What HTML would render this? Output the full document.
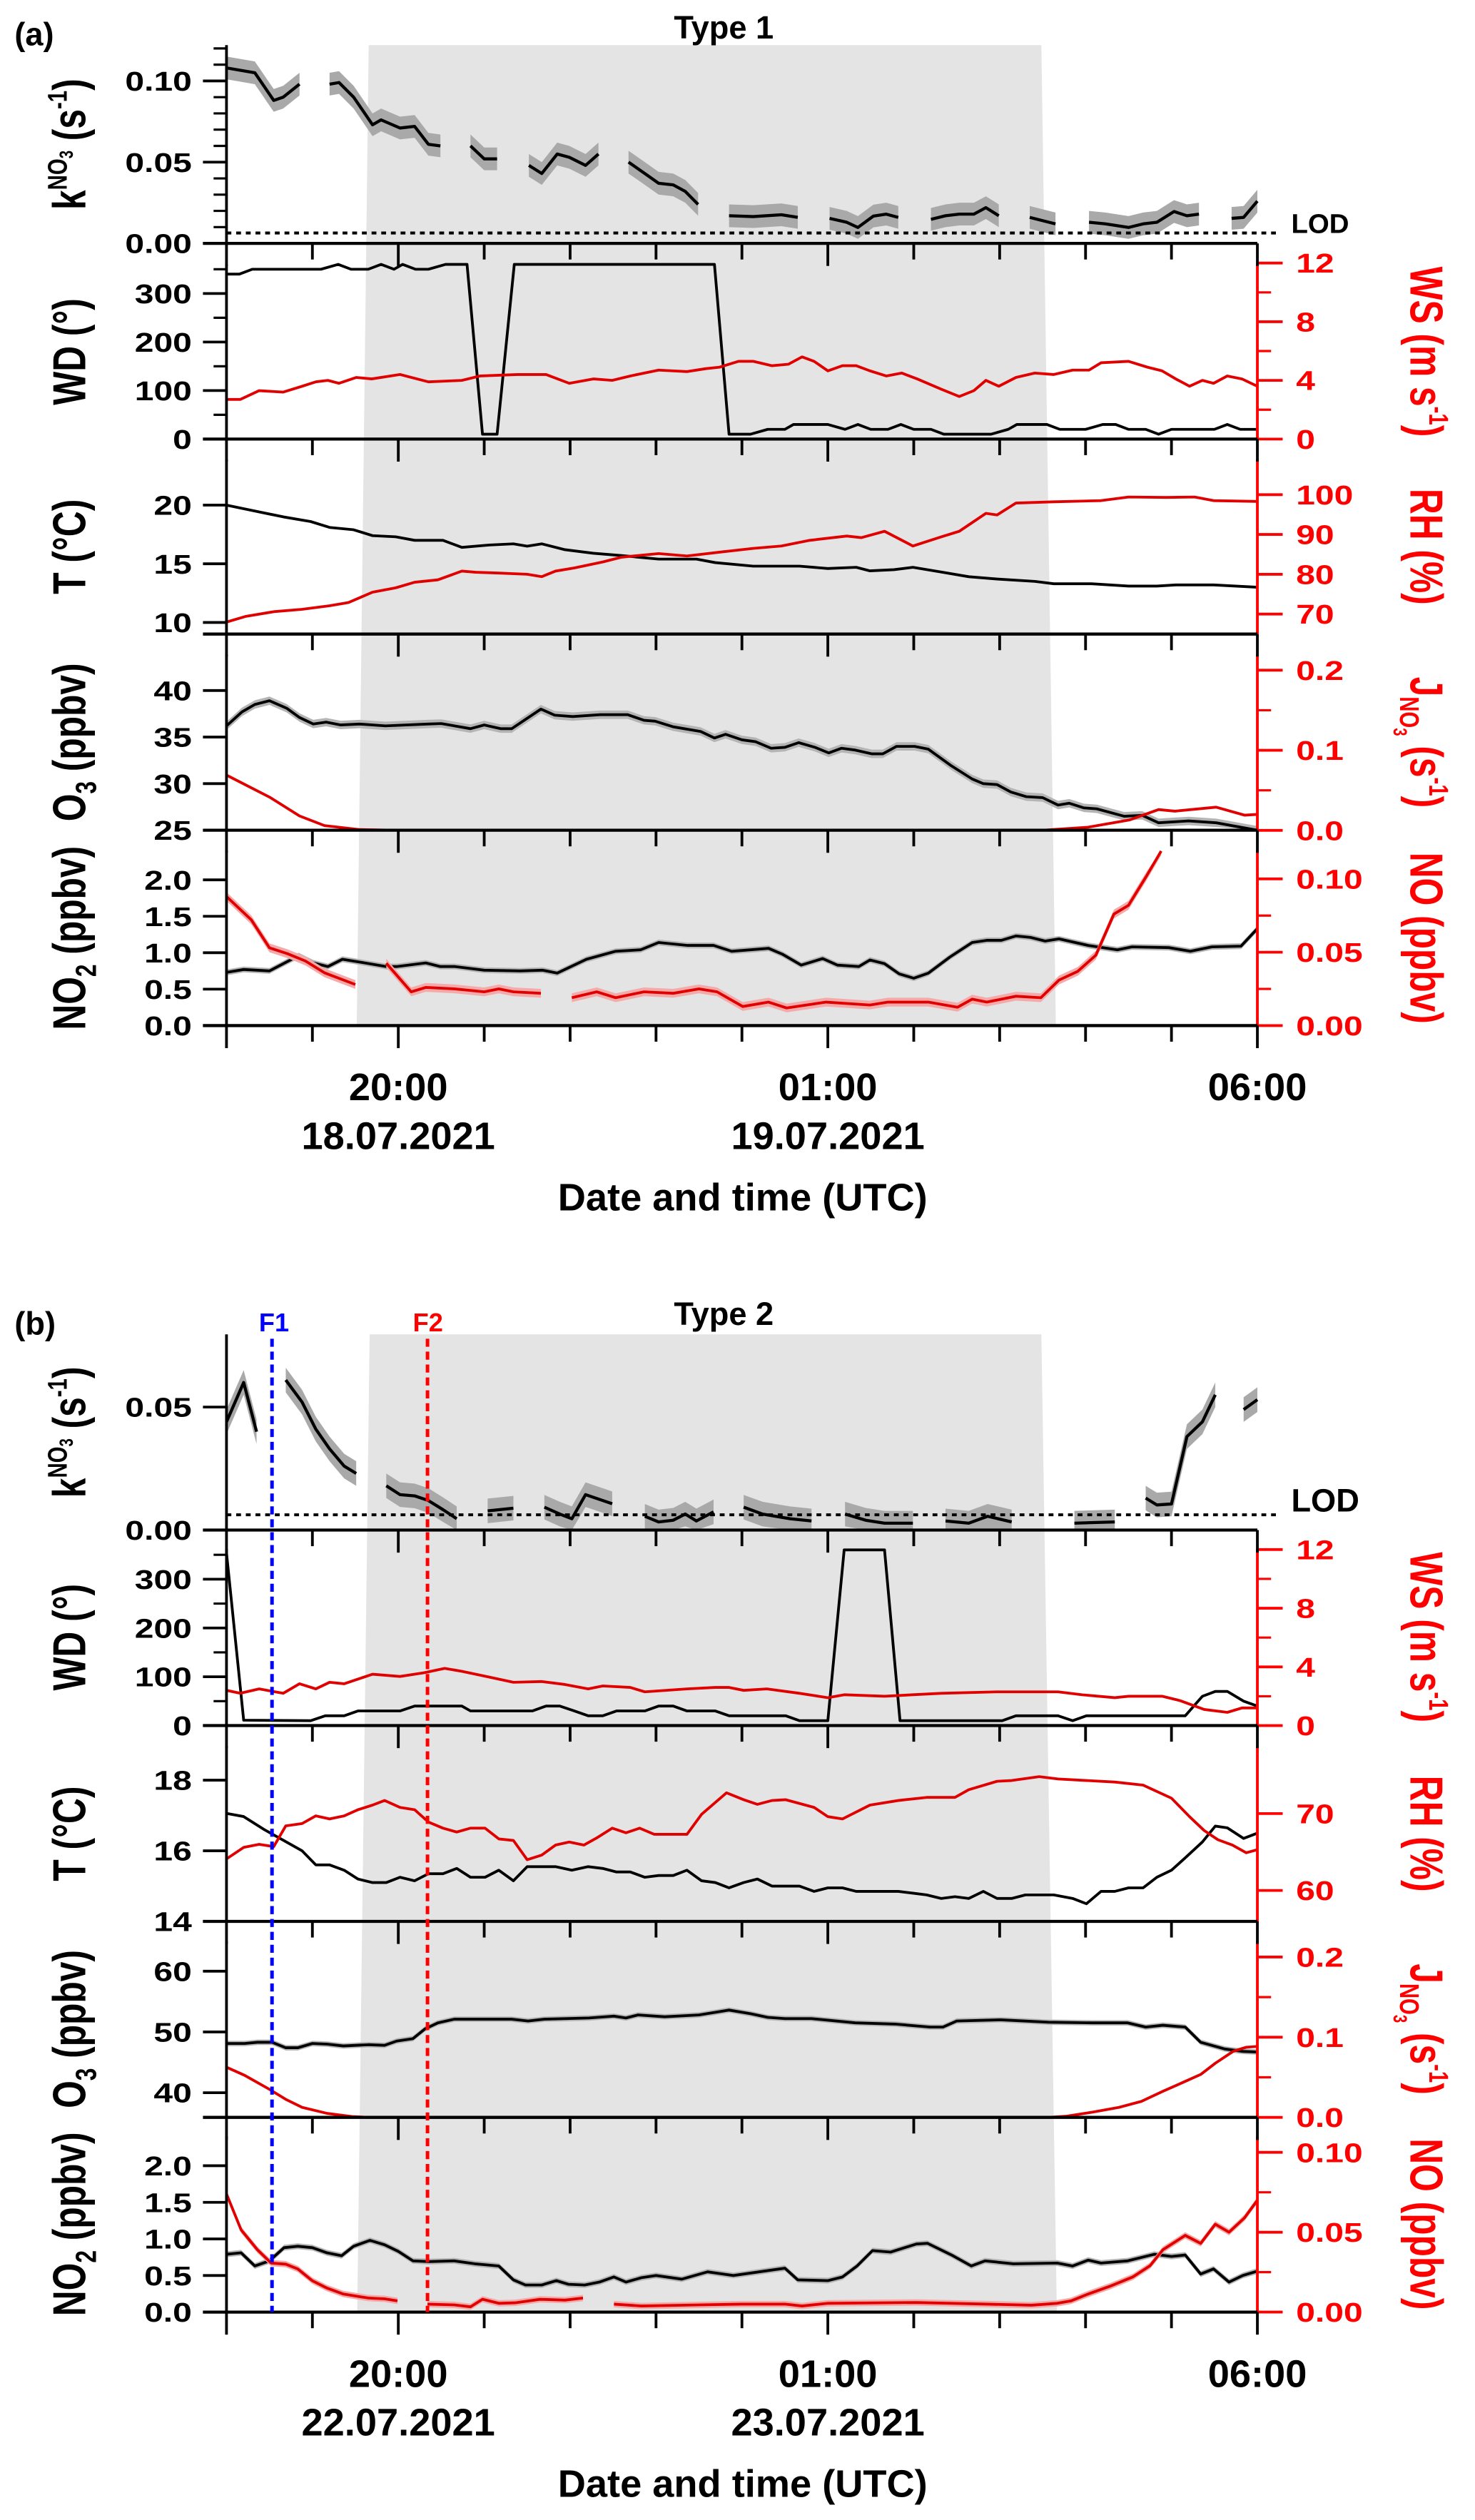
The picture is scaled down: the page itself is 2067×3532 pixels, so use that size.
<!DOCTYPE html>
<html><head><meta charset="utf-8"><title>Type 1 / Type 2 time series</title>
<style>html,body{margin:0;padding:0;background:#fff}svg{display:block}text{font-family:"Liberation Sans",Arial,sans-serif}</style>
</head><body>
<svg id="chart" xmlns="http://www.w3.org/2000/svg" width="2067" height="3532" viewBox="0 0 915 1563.5" preserveAspectRatio="none">
<rect x="0" y="0" width="915" height="1563.5" fill="#fff"/>
<polygon points="228.7,28 646,28 655,636.3 221.3,636.3" fill="#e4e4e4"/>
<polygon points="229.3,827.9 646,827.9 655.6,1434.5 221.6,1434.5" fill="#e4e4e4"/>
<g id="marks"></g>
<g id="axes"></g>
<text x="9" y="28" font-size="20" font-weight="bold">(a)</text>
<text x="449" y="24" font-size="20" font-weight="bold" text-anchor="middle">Type 1</text>
<text x="9" y="828" font-size="20" font-weight="bold">(b)</text>
<text x="449" y="822" font-size="20" font-weight="bold" text-anchor="middle">Type 2</text>
<text x="170" y="826" font-size="16" font-weight="bold" fill="#0000ff" text-anchor="middle">F1</text>
<text x="265.5" y="826" font-size="16" font-weight="bold" fill="#ff0000" text-anchor="middle">F2</text>
</svg>
<script>
// ---------- data (hours since 18:00) ----------
const hourTicks=[0,1,2,3,4,5,6,7,8,9,10,11,12];
const hourMajor=[0,2,7,12];
const timeLabels=['20:00','01:00','06:00'];
const timeLabelHours=[2,7,12];
const dateLabelsA=['18.07.2021','19.07.2021'];
const dateLabelsB=['22.07.2021','23.07.2021'];
const flightHours=[0.53,2.34];

const kA_t=[0,0.33,0.55,0.66,0.85,1.0,1.2,1.31,1.48,1.7,1.8,2.02,2.19,2.35,2.49,2.6,2.84,3.0,3.15,3.3,3.52,3.67,3.85,3.99,4.18,4.33,4.5,4.68,4.87,5.03,5.2,5.34,5.49,5.7,5.85,6.13,6.46,6.65,6.8,7.02,7.22,7.35,7.53,7.68,7.82,8.0,8.2,8.37,8.53,8.7,8.84,8.99,9.2,9.35,9.65,9.8,10.04,10.23,10.5,10.67,10.83,11.03,11.18,11.32,11.5,11.7,11.84,12];
const kA_v=[0.108,0.105,0.088,0.090,0.098,null,0.098,0.099,0.090,0.073,0.076,0.071,0.072,0.061,0.060,null,0.060,0.052,0.052,null,0.048,0.043,0.055,0.053,0.048,0.055,null,0.050,0.043,0.037,0.036,0.032,0.024,null,0.017,0.0165,0.0176,0.016,null,0.0154,0.013,0.0098,0.0168,0.018,0.016,null,0.0148,0.017,0.018,0.018,0.022,0.017,null,0.016,0.012,null,0.013,0.012,0.0098,0.012,0.013,0.0196,0.017,0.018,null,0.0154,0.016,0.026];
const kA_err=0.007;
const lodA=0.0064;
const wdA_t=[0,0.15,0.3,0.6,1.1,1.3,1.45,1.65,1.8,1.95,2.05,2.2,2.35,2.55,2.8,2.98,3.15,3.35,5.68,5.85,6.1,6.3,6.5,6.6,7.0,7.2,7.35,7.5,7.7,7.85,8.0,8.2,8.35,8.9,9.1,9.2,9.55,9.7,10.0,10.2,10.35,10.5,10.7,10.85,11.0,11.5,11.65,11.8,12];
const wdA_v=[340,340,350,350,350,360,350,350,360,350,360,350,350,360,360,10,10,360,360,10,10,20,20,30,30,20,30,20,20,30,20,20,10,10,20,30,30,20,20,30,30,20,20,10,20,20,30,20,20];
const wsA_t=[0,0.16,0.38,0.66,0.88,1.04,1.18,1.31,1.51,1.69,2.02,2.35,2.74,2.95,3.39,3.72,3.99,4.27,4.49,4.70,5.03,5.36,5.58,5.74,5.96,6.13,6.35,6.54,6.70,6.84,7.00,7.17,7.33,7.49,7.68,7.86,8.04,8.32,8.53,8.70,8.84,8.99,9.19,9.41,9.63,9.85,10.04,10.18,10.50,10.72,10.89,11.05,11.21,11.36,11.49,11.65,11.82,12];
const wsA_v=[2.7,2.7,3.3,3.2,3.6,3.9,4.0,3.8,4.2,4.1,4.4,3.9,4.0,4.3,4.4,4.4,3.8,4.1,4.0,4.3,4.7,4.6,4.8,4.9,5.3,5.3,5.0,5.1,5.6,5.3,4.65,5.0,5.0,4.65,4.3,4.5,4.1,3.4,2.9,3.3,4.0,3.6,4.2,4.5,4.4,4.7,4.7,5.2,5.3,4.9,4.65,4.1,3.6,4.0,3.8,4.3,4.1,3.6];
const tA_t=[0,0.33,0.66,0.98,1.2,1.48,1.7,1.97,2.19,2.52,2.74,3.06,3.34,3.5,3.67,3.94,4.27,4.6,5.03,5.47,5.69,6.13,6.67,7.0,7.33,7.49,7.77,7.99,8.32,8.64,8.97,9.41,9.63,10.07,10.5,10.83,11.05,11.49,12];
const tA_v=[20.0,19.5,19.0,18.6,18.1,17.9,17.4,17.3,17.0,17.0,16.4,16.6,16.7,16.5,16.7,16.2,15.9,15.7,15.4,15.4,15.1,14.8,14.8,14.6,14.7,14.4,14.5,14.7,14.3,13.9,13.7,13.5,13.3,13.3,13.1,13.1,13.2,13.2,13.0];
const rhA_t=[0,0.22,0.55,0.88,1.2,1.42,1.7,1.97,2.19,2.46,2.74,2.9,3.17,3.5,3.67,3.83,4.05,4.38,4.6,5.03,5.36,5.8,6.13,6.46,6.78,7.22,7.39,7.66,7.99,8.32,8.53,8.84,8.97,9.19,9.63,10.18,10.5,10.94,11.27,11.49,12];
const rhA_v=[68.0,69.4,70.6,71.2,72.1,72.9,75.5,76.6,78.0,78.6,80.8,80.5,80.3,80.0,79.4,80.8,81.6,83.1,84.3,85.2,84.6,85.7,86.5,87.1,88.5,89.6,89.2,90.8,87.1,89.4,90.8,95.3,94.9,97.9,98.2,98.5,99.4,99.3,99.4,98.5,98.3];
const o3A_t=[0,0.18,0.33,0.5,0.7,0.85,1.01,1.16,1.33,1.55,1.85,2.34,2.5,2.84,3.0,3.19,3.32,3.66,3.82,4.03,4.35,4.67,4.86,4.99,5.2,5.52,5.68,5.81,6.0,6.16,6.34,6.5,6.66,6.85,7.01,7.16,7.32,7.51,7.64,7.8,8.01,8.17,8.44,8.68,8.81,8.97,9.13,9.31,9.5,9.68,9.81,9.98,10.13,10.45,10.66,10.85,11.2,11.52,12];
const o3A_v=[36.2,37.7,38.5,38.9,38.1,37.1,36.4,36.6,36.3,36.4,36.2,36.4,36.45,35.9,36.3,35.9,35.9,38.0,37.35,37.2,37.4,37.4,36.8,36.7,36.1,35.6,34.9,35.3,34.7,34.5,33.8,33.9,34.4,33.9,33.3,33.8,33.6,33.2,33.2,34.0,34.0,33.7,31.9,30.5,30.0,29.9,29.1,28.6,28.5,27.7,27.9,27.4,27.3,26.5,26.6,25.8,26.0,25.8,25.0];
const jA_t=[0,0.51,0.85,1.14,1.55,1.96,9.5,10.03,10.51,10.85,11.04,11.52,11.85,12];
const jA_v=[0.069,0.041,0.018,0.006,0.001,0,0,0.004,0.013,0.026,0.024,0.029,0.019,0.02];
const no2A_t=[0,0.2,0.5,0.84,1.01,1.18,1.35,1.56,1.86,1.98,2.32,2.49,2.66,3.0,3.42,3.68,3.85,4.19,4.53,4.82,5.03,5.37,5.67,5.88,6.31,6.47,6.69,6.94,7.11,7.36,7.49,7.66,7.83,8.0,8.17,8.42,8.68,8.85,9.02,9.19,9.36,9.53,9.69,10.03,10.37,10.54,10.97,11.22,11.47,11.81,12];
const no2A_v=[0.73,0.77,0.75,0.96,0.86,0.81,0.91,0.87,0.81,0.81,0.86,0.81,0.81,0.76,0.75,0.76,0.72,0.91,1.02,1.04,1.14,1.10,1.10,1.02,1.06,0.98,0.83,0.92,0.83,0.81,0.90,0.85,0.71,0.65,0.72,0.94,1.14,1.17,1.17,1.23,1.21,1.16,1.19,1.10,1.04,1.08,1.07,1.02,1.08,1.09,1.33];
const noA_t=[0,0.29,0.5,0.71,0.92,1.14,1.5,1.7,1.86,2.15,2.32,2.66,3.0,3.17,3.34,3.66,3.85,4.02,4.31,4.53,4.86,5.2,5.5,5.71,6.01,6.31,6.52,6.98,7.49,7.7,8.17,8.51,8.68,8.85,9.19,9.48,9.69,9.91,10.12,10.33,10.5,10.71,10.88];
const noA_v=[0.088,0.072,0.053,0.049,0.044,0.036,0.028,null,0.0425,0.023,0.026,0.025,0.023,0.025,0.023,0.022,null,0.019,0.023,0.019,0.023,0.022,0.025,0.023,0.013,0.016,0.012,0.016,0.014,0.016,0.016,0.0125,0.018,0.016,0.020,0.019,0.031,0.037,0.048,0.076,0.082,0.102,0.119];

const kB_t=[0,0.2,0.35,0.5,0.69,0.88,1.04,1.2,1.37,1.51,1.7,1.86,2.02,2.19,2.35,2.52,2.68,2.85,3.04,3.34,3.5,3.7,3.88,4.02,4.18,4.49,4.7,4.87,5.03,5.2,5.34,5.47,5.67,5.85,6.02,6.24,6.56,6.81,7.0,7.2,7.44,7.66,7.99,8.2,8.37,8.64,8.86,9.14,9.5,9.87,10.34,10.5,10.7,10.83,11.0,11.18,11.36,11.51,11.7,11.84,12];
const kB_v=[0.044,0.060,0.040,null,0.061,0.052,0.041,0.033,0.026,0.023,null,0.018,0.0144,0.0139,0.012,0.0083,0.0046,null,0.0078,0.0089,null,0.0093,0.0065,0.0046,0.0144,0.0107,null,0.0056,0.0033,0.004,0.0065,0.0037,0.0074,null,0.0093,0.0065,0.0046,0.0037,null,0.0065,0.004,0.0028,0.0028,null,0.0037,0.0028,0.0056,0.0033,null,0.0028,0.0033,null,0.013,0.0102,0.0106,0.038,0.044,0.055,null,0.049,0.053];
const kB_err=0.005;
const lodB=0.0062;
const wdB_t=[0,0.2,0.98,1.15,1.37,1.53,2.02,2.19,2.74,2.84,3.56,3.72,3.88,4.05,4.21,4.38,4.54,4.87,5.03,5.2,5.36,5.69,5.85,6.51,6.67,7.0,7.19,7.66,7.84,9.03,9.19,9.68,9.85,10.01,11.16,11.36,11.51,11.65,11.84,12];
const wdB_v=[354,11,10,20,20,30,30,40,40,30,30,40,40,30,20,20,30,30,40,40,30,30,20,20,10,10,360,360,10,10,20,20,10,20,20,60,70,70,50,40];
const wsB_t=[0,0.16,0.38,0.66,0.85,1.04,1.2,1.37,1.7,2.02,2.3,2.54,2.74,3.06,3.34,3.67,3.94,4.21,4.38,4.7,4.87,5.36,5.69,5.85,6.02,6.29,6.67,7.0,7.19,7.66,7.99,8.32,8.97,9.68,9.96,10.34,10.5,10.89,11.1,11.38,11.65,11.82,12];
const wsB_v=[2.4,2.2,2.5,2.2,2.85,2.5,2.95,2.85,3.5,3.35,3.6,3.9,3.7,3.3,2.95,3.0,2.8,2.5,2.7,2.6,2.3,2.5,2.6,2.6,2.4,2.5,2.2,1.9,2.1,2.0,2.1,2.2,2.3,2.3,2.1,1.9,2.0,2.0,1.7,1.1,0.9,1.2,1.2];
const tB_t=[0,0.2,0.44,0.66,0.88,1.04,1.2,1.37,1.53,1.7,1.86,2.02,2.19,2.35,2.52,2.68,2.84,3.01,3.17,3.34,3.5,3.83,4.02,4.21,4.38,4.54,4.7,4.87,5.03,5.2,5.36,5.53,5.69,5.85,6.02,6.18,6.35,6.67,6.84,7.0,7.17,7.33,7.82,7.99,8.15,8.32,8.48,8.64,8.81,8.97,9.14,9.3,9.63,9.85,10.01,10.18,10.34,10.5,10.67,10.83,11.0,11.16,11.36,11.51,11.65,11.84,12];
const tB_v=[17.06,16.97,16.6,16.3,16.0,15.6,15.6,15.45,15.2,15.1,15.1,15.25,15.15,15.35,15.35,15.5,15.25,15.25,15.45,15.15,15.55,15.55,15.45,15.55,15.5,15.4,15.4,15.25,15.3,15.3,15.45,15.15,15.1,14.95,15.1,15.2,15.0,15.0,14.85,14.95,14.95,14.85,14.85,14.8,14.75,14.65,14.7,14.65,14.85,14.65,14.65,14.75,14.75,14.65,14.5,14.85,14.85,14.95,14.95,15.25,15.45,15.8,16.25,16.7,16.65,16.35,16.5];
const rhB_t=[0,0.2,0.38,0.55,0.69,0.88,1.04,1.2,1.37,1.53,1.7,1.84,2.02,2.19,2.35,2.52,2.68,2.84,3.01,3.17,3.34,3.5,3.67,3.83,3.99,4.16,4.32,4.49,4.65,4.81,4.98,5.36,5.53,5.82,6.02,6.18,6.35,6.51,6.84,7.0,7.17,7.33,7.49,7.82,8.15,8.48,8.64,8.97,9.14,9.46,9.68,10.01,10.34,10.67,11.0,11.21,11.38,11.54,11.71,11.87,12];
const rhB_v=[64.1,65.6,66.0,65.7,68.4,68.7,69.7,69.3,69.7,70.5,71.1,71.7,70.8,70.5,68.9,68.1,67.6,68.1,68.1,66.7,66.5,64.0,64.6,65.9,66.3,65.9,66.9,68.1,67.5,68.1,67.3,67.3,69.9,72.7,71.8,71.2,71.7,71.8,70.8,69.6,69.3,70.2,71.1,71.7,72.1,72.1,73.1,74.2,74.3,74.8,74.5,74.3,74.1,73.7,72.0,69.6,67.8,66.6,65.9,64.9,65.3];
const o3B_t=[0,0.21,0.36,0.53,0.69,0.83,1.0,1.17,1.36,1.65,1.84,1.98,2.17,2.31,2.46,2.65,3.32,3.51,3.70,4.22,4.51,4.65,4.79,5.1,5.5,5.85,6.1,6.3,6.5,6.81,7.32,7.78,8.19,8.34,8.5,9.01,9.57,10.08,10.49,10.7,10.9,11.16,11.34,11.62,11.83,12];
const o3B_v=[48.1,48.1,48.3,48.3,47.4,47.4,48.1,48.0,47.7,47.9,47.8,48.5,48.9,50.5,51.5,52.1,52.1,51.8,52.1,52.3,52.6,52.3,52.8,52.5,52.8,53.6,53.0,52.4,52.2,52.2,51.5,51.3,50.8,50.8,51.8,52.0,51.6,51.5,51.5,50.8,51.1,50.8,48.3,47.2,46.8,46.7];
const jB_t=[0,0.21,0.5,0.69,0.88,1.17,1.46,1.65,9.57,9.78,10.08,10.39,10.65,10.9,11.11,11.34,11.51,11.72,11.87,12];
const jB_v=[0.0626,0.0525,0.035,0.0225,0.0125,0.005,0.001,0,0,0.0015,0.0065,0.0125,0.02,0.0325,0.0425,0.0535,0.0675,0.0825,0.0875,0.0885];
const no2B_t=[0,0.17,0.33,0.5,0.67,0.83,1.0,1.17,1.34,1.48,1.67,1.84,2.0,2.17,2.36,2.65,2.89,3.17,3.34,3.48,3.67,3.84,3.98,4.17,4.34,4.51,4.65,4.83,5.0,5.3,5.6,5.9,6.2,6.5,6.65,7.0,7.17,7.34,7.52,7.73,8.03,8.16,8.44,8.67,8.83,9.16,9.67,9.85,10.03,10.18,10.49,10.8,11.0,11.16,11.34,11.49,11.67,11.83,12];
const no2B_v=[0.79,0.81,0.63,0.70,0.88,0.90,0.88,0.81,0.77,0.90,0.98,0.92,0.83,0.70,0.69,0.70,0.66,0.63,0.44,0.37,0.37,0.43,0.38,0.37,0.41,0.48,0.41,0.47,0.5,0.45,0.55,0.5,0.55,0.6,0.44,0.43,0.48,0.63,0.84,0.82,0.93,0.94,0.78,0.63,0.70,0.66,0.67,0.63,0.71,0.67,0.70,0.79,0.76,0.78,0.52,0.59,0.41,0.50,0.56];
const noB_t=[0,0.17,0.36,0.52,0.69,0.83,1.0,1.17,1.36,1.65,1.84,1.99,2.15,2.34,2.65,2.84,2.98,3.17,3.36,3.65,3.94,4.15,4.3,4.51,4.83,5.5,6.0,6.5,6.7,7.0,8.03,8.85,9.37,9.67,9.83,10.03,10.29,10.55,10.75,10.9,11.16,11.34,11.51,11.67,11.85,12];
const noB_v=[0.074,0.0515,0.039,0.0307,0.030,0.027,0.0196,0.015,0.0113,0.0088,0.0083,0.007,null,0.005,0.0045,0.0033,0.008,0.0055,0.0058,0.008,0.0075,0.0088,null,0.005,0.0038,0.0045,0.005,0.005,0.0038,0.0055,0.006,0.005,0.0043,0.0055,0.007,0.0113,0.0163,0.022,0.029,0.039,0.048,0.043,0.055,0.050,0.059,0.070];

// ---------- layout ----------
const NS='http://www.w3.org/2000/svg';
const marks=document.getElementById('marks');
const axes=document.getElementById('axes');
const X0=140.5,X1=780,PPH=(X1-X0)/12;
function X(h){return X0+h*PPH;}
function mk(tag,attrs,parent){const e=document.createElementNS(NS,tag);for(const k in attrs)e.setAttribute(k,attrs[k]);parent.appendChild(e);return e;}
const RED='#ff0000';
const LW=1.7, AW=1.7;

const A={
 k:{top:28,bot:151,y0:151,v0:0,ppu:1008},
 wd:{top:164,bot:272.4,y0:272.4,v0:0,ppu:0.301},
 ws:{top:164,bot:272.4,y0:272.4,v0:0,ppu:9.1},
 t:{top:285,bot:393.4,y0:313.4,v0:20,ppu:7.28},
 rh:{top:285,bot:393.4,y0:306.9,v0:100,ppu:2.47},
 o3:{top:406,bot:515.1,y0:515.1,v0:25,ppu:5.78},
 j:{top:406,bot:515.1,y0:515.2,v0:0,ppu:497},
 no2:{top:527.7,bot:636.3,y0:636.3,v0:0,ppu:45.2},
 no:{top:527.7,bot:636.3,y0:636.3,v0:0,ppu:910}
};
const B={
 k:{top:827.9,bot:949.3,y0:949.3,v0:0,ppu:1526},
 wd:{top:961,bot:1070.6,y0:1070.6,v0:0,ppu:0.3027},
 ws:{top:961,bot:1070.6,y0:1070.6,v0:0,ppu:9.1},
 t:{top:1083.3,bot:1192.1,y0:1192.1,v0:14,ppu:21.9},
 rh:{top:1083.3,bot:1192.1,y0:1172.9,v0:60,ppu:4.77},
 o3:{top:1204.2,bot:1313.7,y0:1260.7,v0:50,ppu:3.77},
 j:{top:1204.2,bot:1313.7,y0:1313.7,v0:0,ppu:497.5},
 no2:{top:1325.4,bot:1434.5,y0:1434.5,v0:0,ppu:45.4},
 no:{top:1325.4,bot:1434.5,y0:1434.5,v0:0,ppu:991}
};
function Y(s,v){return s.y0-(v-s.v0)*s.ppu;}
function cl(s,y){return Math.max(s.top,Math.min(s.bot,y));}

function series(ts,vs,s,color,w,name,err,bandFill){
  const n=Math.min(ts.length,vs.length);const segs=[];let cur=[];
  for(let i=0;i<n;i++){if(vs[i]===null){if(cur.length)segs.push(cur);cur=[];}else cur.push([ts[i],vs[i]]);}
  if(cur.length)segs.push(cur);
  segs.forEach(seg=>{
    if(err){
      const up=seg.map(p=>X(p[0]).toFixed(2)+','+cl(s,Y(s,p[1]+err)).toFixed(2));
      const lo=seg.slice().reverse().map(p=>X(p[0]).toFixed(2)+','+cl(s,Y(s,p[1]-err)).toFixed(2));
      const b=mk('polygon',{points:up.concat(lo).join(' '),fill:bandFill},marks);
      
      
    }
    const d=seg.map((p,i)=>(i?'L':'M')+X(p[0]).toFixed(2)+','+cl(s,Y(s,p[1])).toFixed(2)).join('');
    const l=mk('path',{d:d,fill:'none',stroke:color,'stroke-width':w,'stroke-linejoin':'round'},marks);
    
    
  });
}

function ln(x1,y1,x2,y2,c,w,name,dash){
  const e=mk('line',{x1:x1,y1:y1,x2:x2,y2:y2,stroke:c,'stroke-width':w},axes);
  if(dash)e.setAttribute('stroke-dasharray',dash);
  
  
  return e;
}
function tickText(x,y,str,anchor,color,name){
  const e=mk('text',{transform:'translate('+x+','+y+') scale(1.25,1)','text-anchor':anchor,'font-size':17,'font-weight':'bold',fill:color},axes);
  e.textContent=str;
  
  
}
function leftAxis(s,ticks,labels,minors,name){
  ln(X0,s.top,X0,s.bot,'#000',AW,name+'-line');
  ticks.forEach((v,i)=>{const y=Y(s,v);ln(X0-14.6,y,X0,y,'#000',AW,name+'-tick');tickText(119,y+6,labels[i],'end','#000',name+'-tick-label');});
  (minors||[]).forEach(v=>{const y=Y(s,v);ln(X0-8,y,X0,y,'#000',1.4,name+'-minor-tick');});
}
function rightAxis(s,ticks,labels,minors,name){
  ln(X1,s.top,X1,s.bot,RED,AW,name+'-line');
  ticks.forEach((v,i)=>{const y=Y(s,v);ln(X1,y,X1+15.7,y,RED,AW,name+'-tick');tickText(804,y+6,labels[i],'start',RED,name+'-tick-label');});
  (minors||[]).forEach(v=>{const y=Y(s,v);ln(X1,y,X1+8.5,y,RED,1.4,name+'-minor-tick');});
}
function bottomAxis(bot,name){
  ln(X0-14.6,bot,X1,bot,'#000',1.9,name+'-line');
  hourTicks.forEach(h=>{const big=hourMajor.indexOf(h)>=0;ln(X(h),bot,X(h),bot+(big?14:10),'#000',AW,name+'-hour-tick');});
}
function title(x,cy,rot,parts,color,name){
  const e=mk('text',{transform:'translate('+x+','+cy+') rotate('+rot+') scale(1,1.3)','text-anchor':'middle','font-size':22,'font-weight':'bold',fill:color},axes);
  parts.forEach(p=>{const t=mk('tspan',{},e);if(p.dy)t.setAttribute('dy',p.dy);if(p.fs)t.setAttribute('font-size',p.fs);t.textContent=p.s;});
  
  
}
const kTitle=[{s:'k'},{s:'NO',dy:-9,fs:13},{s:'3',dy:3,fs:9},{s:' (s',dy:6,fs:22},{s:'-1',dy:-9,fs:13},{s:')',dy:9,fs:22}];
const wsTitle=[{s:'WS (m s'},{s:'-1',dy:-9,fs:13},{s:')',dy:9,fs:22}];
const jTitle=[{s:'J'},{s:'NO',dy:5,fs:13},{s:'3',dy:3,fs:9},{s:' (s',dy:-8,fs:22},{s:'-1',dy:-9,fs:13},{s:')',dy:9,fs:22}];
const o3Title=[{s:'O'},{s:'3',dy:5,fs:14},{s:' (ppbv)',dy:-5,fs:22}];
const no2Title=[{s:'NO'},{s:'2',dy:5,fs:14},{s:' (ppbv)',dy:-5,fs:22}];

function drawFigure(P,D,tag,dates){
  series(D.kt,D.kv,P.k,'#000',1.9,tag+'-k-no3',D.kerr,'#a9a9a9');
  const lodY=Y(P.k,D.lod);
  ln(X0,lodY,793,lodY,'#000',1.8,tag+'-lod-line','3,3');
  const lt=mk('text',{x:801,y:lodY+(tag==='a'?0:-2),'font-size':(tag==='a'?17:20),'font-weight':'bold'},axes);
  lt.textContent='LOD';
  
  
  series(D.wdt,D.wdv,P.wd,'#000',LW,tag+'-wd');
  series(D.wst,D.wsv,P.ws,'#e00000',LW,tag+'-ws');
  series(D.tt,D.tv,P.t,'#000',LW,tag+'-temperature');
  series(D.rht,D.rhv,P.rh,'#e00000',LW,tag+'-rh');
  series(D.o3t,D.o3v,P.o3,'#000',LW,tag+'-o3',0.45,'#b4b4b4');
  series(D.jt,D.jv,P.j,'#e00000',LW,tag+'-j-no3');
  series(D.no2t,D.no2v,P.no2,'#000',LW,tag+'-no2',0.04,'#b4b4b4');
  series(D.not,D.nov,P.no,'#e00000',LW,tag+'-no',D.noerr,'#f6a9a9');
  leftAxis(P.k,D.kTicks,D.kLabels,D.kMinor,tag+'-k-axis');
  leftAxis(P.wd,[0,100,200,300],['0','100','200','300'],[50,150,250,350],tag+'-wd-axis');
  rightAxis(P.ws,[0,4,8,12],['0','4','8','12'],[2,6,10],tag+'-ws-axis');
  leftAxis(P.t,D.tTicks,D.tLabels,[],tag+'-t-axis');
  rightAxis(P.rh,D.rhTicks,D.rhLabels,[],tag+'-rh-axis');
  leftAxis(P.o3,D.o3Ticks,D.o3Labels,[],tag+'-o3-axis');
  rightAxis(P.j,[0,0.1,0.2],['0.0','0.1','0.2'],[0.05,0.15],tag+'-j-axis');
  leftAxis(P.no2,[0,0.5,1,1.5,2],['0.0','0.5','1.0','1.5','2.0'],[],tag+'-no2-axis');
  rightAxis(P.no,[0,0.05,0.1],['0.00','0.05','0.10'],[0.025,0.075],tag+'-no-axis');
  ['k','wd','t','o3','no2'].forEach(k=>bottomAxis(P[k].bot,tag+'-'+k+'-time-axis'));
  const c=p=>(p.top+p.bot)/2;
  title(53,c(P.k),-90,kTitle,'#000',tag+'-k-title');
  title(53,c(P.wd),-90,[{s:'WD (°)'}],'#000',tag+'-wd-title');
  title(53,c(P.t),-90,[{s:'T (°C)'}],'#000',tag+'-t-title');
  title(53,c(P.o3),-90,o3Title,'#000',tag+'-o3-title');
  title(53,c(P.no2),-90,no2Title,'#000',tag+'-no2-title');
  title(875,c(P.ws),90,wsTitle,RED,tag+'-ws-title');
  title(875,c(P.rh),90,[{s:'RH (%)'}],RED,tag+'-rh-title');
  title(875,c(P.j),90,jTitle,RED,tag+'-j-title');
  title(875,c(P.no),90,[{s:'NO (ppbv)'}],RED,tag+'-no-title');
  const bot=P.no2.bot;
  timeLabelHours.forEach((h,i)=>{
    const e=mk('text',{x:X(h),y:bot+46.4,'text-anchor':'middle','font-size':24,'font-weight':'bold'},axes);
    e.textContent=timeLabels[i];
    
    
    if(i<dates.length){
      const d=mk('text',{x:X(h),y:bot+76.6,'text-anchor':'middle','font-size':24,'font-weight':'bold'},axes);
      d.textContent=dates[i];
      
      
    }
  });
  const xt=mk('text',{x:460.7,y:bot+114.6,'text-anchor':'middle','font-size':24,'font-weight':'bold'},axes);
  xt.textContent='Date and time (UTC)';
  
  
}

drawFigure(A,{kt:kA_t,kv:kA_v,kerr:kA_err,lod:lodA,wdt:wdA_t,wdv:wdA_v,wst:wsA_t,wsv:wsA_v,tt:tA_t,tv:tA_v,rht:rhA_t,rhv:rhA_v,o3t:o3A_t,o3v:o3A_v,jt:jA_t,jv:jA_v,no2t:no2A_t,no2v:no2A_v,not:noA_t,nov:noA_v,noerr:0.003,
 kTicks:[0,0.05,0.1],kLabels:['0.00','0.05','0.10'],kMinor:[0.01,0.02,0.03,0.04,0.06,0.07,0.08,0.09,0.11,0.12],
 tTicks:[10,15,20],tLabels:['10','15','20'],rhTicks:[70,80,90,100],rhLabels:['70','80','90','100'],
 o3Ticks:[25,30,35,40],o3Labels:['25','30','35','40']},'a',dateLabelsA);

drawFigure(B,{kt:kB_t,kv:kB_v,kerr:kB_err,lod:lodB,wdt:wdB_t,wdv:wdB_v,wst:wsB_t,wsv:wsB_v,tt:tB_t,tv:tB_v,rht:rhB_t,rhv:rhB_v,o3t:o3B_t,o3v:o3B_v,jt:jB_t,jv:jB_v,no2t:no2B_t,no2v:no2B_v,not:noB_t,nov:noB_v,noerr:0.002,
 kTicks:[0,0.05],kLabels:['0.00','0.05'],kMinor:[],
 tTicks:[14,16,18],tLabels:['14','16','18'],rhTicks:[60,70],rhLabels:['60','70'],
 o3Ticks:[40,50,60],o3Labels:['40','50','60']},'b',dateLabelsB);

ln(X(flightHours[0]),830.6,X(flightHours[0]),1434.5,'#0000ff',2.2,'f1-marker-line','5,3');
ln(X(flightHours[1]),830.6,X(flightHours[1]),1434.5,'#ff0000',2.2,'f2-marker-line','5,3');
</script>
</body></html>
